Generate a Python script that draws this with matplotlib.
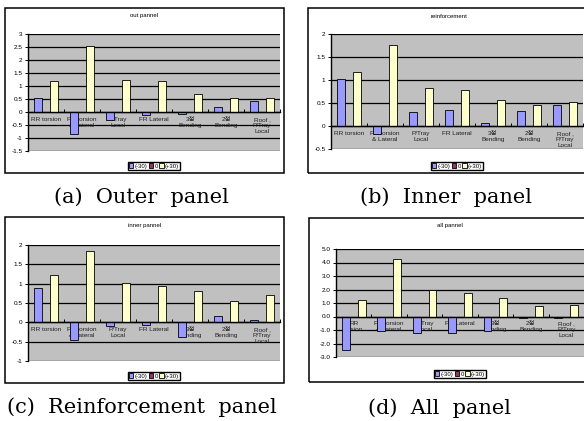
import matplotlib
matplotlib.use("Agg")
import matplotlib.pyplot as plt
from matplotlib.patches import Rectangle, Patch
import numpy as np

plt.rcParams['font.family'] = ['Liberation Sans', 'Noto Sans CJK KR']
plt.rcParams['axes.unicode_minus'] = False

W, H = 584, 421

categories = ["RR torsion", "FR torsion\n& Lateral", "P/Tray\nLocal", "FR Lateral",
              "3점\nBending", "2점\nBending", "Roof ,\nP/Tray\nLocal"]
categories_all = ["RR\ntorsion"] + categories[1:]
series_names = ["(-30)", "0", "(+30)"]
series_colors = ["#9999FF", "#993366", "#FFFFCC"]

# out pannel
out_m30 = [0.53, -0.85, -0.30, -0.13, -0.08, 0.20, 0.42]
out_0 = [0, 0, 0, 0, 0, 0, 0]
out_p30 = [1.20, 2.55, 1.22, 1.18, 0.68, 0.52, 0.55]
out_ticks = [-1.5, -1, -0.5, 0, 0.5, 1, 1.5, 2, 2.5, 3]

# reinforcement
rei_m30 = [1.02, -0.18, 0.30, 0.35, 0.06, 0.32, 0.45]
rei_0 = [0, 0, 0, 0, 0, 0, 0]
rei_p30 = [1.18, 1.77, 0.83, 0.78, 0.57, 0.45, 0.53]
rei_ticks = [-0.5, 0, 0.5, 1, 1.5, 2]

# inner pannel
inn_m30 = [0.88, -0.45, -0.10, -0.07, -0.38, 0.17, 0.05]
inn_0 = [0, 0, 0, 0, 0, 0, 0]
inn_p30 = [1.23, 1.85, 1.02, 0.93, 0.82, 0.56, 0.70]
inn_ticks = [-1, -0.5, 0, 0.5, 1, 1.5, 2]

# all pannel
all_m30 = [-2.45, -1.05, -1.20, -1.25, -1.05, -0.12, -0.10]
all_0 = [0, 0, 0, 0, 0, 0, 0]
all_p30 = [1.20, 4.25, 1.95, 1.72, 1.35, 0.75, 0.82]
all_ticks = [-3.0, -2.0, -1.0, 0.0, 1.0, 2.0, 3.0, 4.0, 5.0]


def rect(x0, y0, x1, y1):
    # pixel box (top-left origin) -> figure fraction rect
    return [x0 / W, 1 - y1 / H, (x1 - x0) / W, (y1 - y0) / H]


def draw_panel(fig, box, plot, title, labels, data, ticks, fmt, legend_y, caption, cap_xy):
    bx0, by0, bx1, by1 = box
    fig.patches.append(Rectangle((bx0 / W, 1 - by1 / H), (bx1 - bx0) / W, (by1 - by0) / H,
                                 transform=fig.transFigure, fill=False,
                                 edgecolor="black", lw=1.1, zorder=-1))
    fig.text((bx0 + bx1) / 2 / W, 1 - (by0 + 8) / H, title, ha="center", va="center", fontsize=4.3)

    ax = fig.add_axes(rect(*plot))
    ax.set_facecolor("#C0C0C0")
    x = np.arange(len(labels))
    bw = 0.222
    for k, vals in enumerate(data):
        ax.bar(x + (k - 1) * bw, vals, bw, color=series_colors[k], edgecolor="black",
               linewidth=0.6, zorder=3)
    ax.set_xlim(-0.5, len(labels) - 0.5)
    ax.set_ylim(ticks[0], ticks[-1])
    ax.set_yticks(ticks)
    ax.set_yticklabels([fmt % t for t in ticks])
    ax.yaxis.grid(True, color="black", lw=0.9)
    ax.set_axisbelow(True)
    ax.tick_params(axis="y", length=2.5, width=0.7, labelsize=4.6, pad=1.5)
    ax.spines["top"].set_visible(False)
    ax.spines["right"].set_visible(False)
    ax.spines["left"].set_linewidth(1.0)
    ax.spines["bottom"].set_position(("data", 0))
    ax.spines["bottom"].set_linewidth(1.0)
    ax.spines["bottom"].set_zorder(4)
    ax.set_xticks(np.arange(len(labels) + 1) - 0.5)
    ax.tick_params(axis="x", direction="in", length=2.5, width=0.7, labelbottom=False)
    for i, lab in enumerate(labels):
        ax.annotate(lab, xy=(i, 0), xytext=(0, -3.5), textcoords="offset points",
                    ha="center", va="top", fontsize=4.6, linespacing=1.25, zorder=2,
                    color="#202020")

    handles = [Patch(facecolor=c, edgecolor="black", linewidth=0.6) for c in series_colors]
    px0, py0, px1, py1 = plot
    fig.legend(handles, series_names, loc="center", ncol=3,
               bbox_to_anchor=((px0 + px1) / 2 / W, 1 - legend_y / H),
               fontsize=4.3, handlelength=0.7, handleheight=0.7, handletextpad=0.2,
               columnspacing=0.3, borderpad=0.25, fancybox=False, edgecolor="black",
               framealpha=1)
    fig.text(cap_xy[0] / W, 1 - cap_xy[1] / H, caption, ha="center", va="center",
             fontsize=15, family="DejaVu Serif")


fig = plt.figure(figsize=(W / 100, H / 100), dpi=100)

draw_panel(fig, (5, 8, 284, 173), (28, 34, 280, 151), "out pannel", categories,
           [out_m30, out_0, out_p30], out_ticks, "%g", 166, "(a)  Outer  panel", (141, 197))
draw_panel(fig, (308, 8, 590, 173), (331, 34, 583, 149), "reinforcement", categories,
           [rei_m30, rei_0, rei_p30], rei_ticks, "%g", 166, "(b)  Inner  panel", (446, 197))
draw_panel(fig, (5, 217, 284, 383), (28, 245, 280, 361), "inner pannel", categories,
           [inn_m30, inn_0, inn_p30], inn_ticks, "%g", 376, "(c)  Reinforcement  panel", (142, 407))
draw_panel(fig, (309, 218, 590, 382), (336, 249, 584, 357), "all pannel", categories_all,
           [all_m30, all_0, all_p30], all_ticks, "%.1f", 374, "(d)  All  panel", (440, 408))

fig.savefig("out.png", dpi=100)
